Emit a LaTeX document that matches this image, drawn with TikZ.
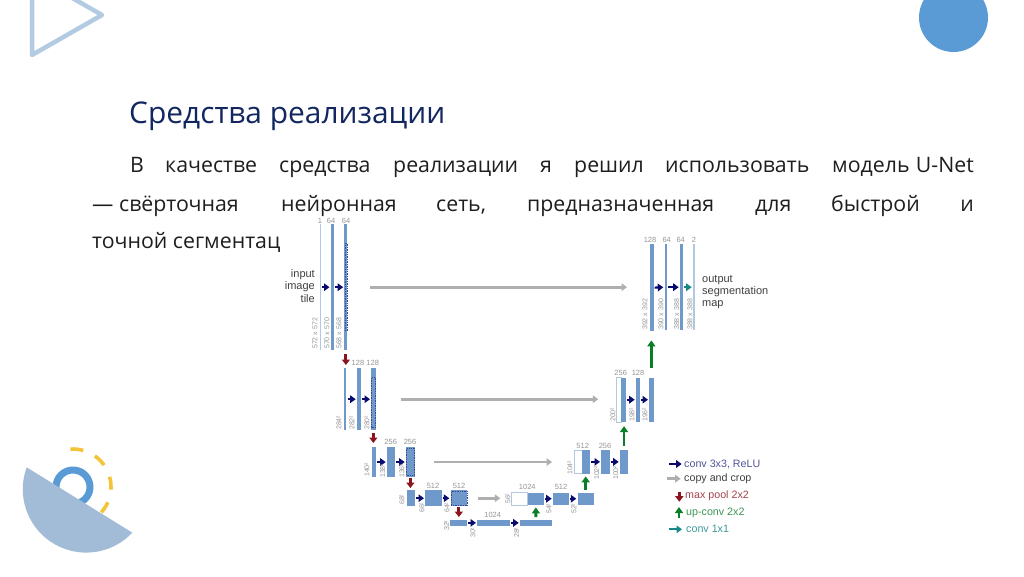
\documentclass[tikz,border=0pt]{standalone}
\usepackage{fontspec}
\setmainfont{Open Sans}
\newfontfamily\unetfont{Liberation Sans}
\usetikzlibrary{arrows.meta, calc}
\definecolor{TitleBlue}{RGB}{18, 38, 96}
\definecolor{BodyGrey}{RGB}{30, 30, 30}
\definecolor{BarBlue}{RGB}{112, 153, 203}
\definecolor{BarLight}{RGB}{178, 200, 226}
\definecolor{ShapeBlue}{RGB}{91, 155, 213}
\definecolor{ShapePale}{RGB}{162, 188, 216}
\definecolor{TriBlue}{RGB}{178, 203, 226}
\definecolor{SunYellow}{RGB}{242, 196, 58}
\definecolor{LabelGrey}{RGB}{150, 150, 150}
\definecolor{ConvNavy}{RGB}{10, 10, 110}
\definecolor{CopyGrey}{RGB}{175, 175, 175}
\definecolor{PoolRed}{RGB}{140, 20, 30}
\definecolor{UpGreen}{RGB}{10, 125, 40}
\definecolor{OneTeal}{RGB}{25, 135, 135}

\begin{document}
\begin{tikzpicture}[
    x=1pt, y=-1pt,
    bar/.style 2 args={rectangle, draw=none, fill=BarBlue, inner sep=0pt, anchor=north west, minimum width=#1pt, minimum height=#2pt},
    ghost/.style 2 args={rectangle, draw=BarLight, line width=0.6pt, fill=white, inner sep=0pt, anchor=north west, minimum width=#1pt, minimum height=#2pt},
    crop/.style 2 args={rectangle, draw=ConvNavy!55!BarBlue, densely dotted, line width=0.7pt, inner sep=0pt, anchor=north west, minimum width=#1pt, minimum height=#2pt},
    word/.style={anchor=base west, inner sep=0pt, font=\fontsize{21.3}{25}\selectfont, text=BodyGrey},
    toplab/.style={anchor=center, inner sep=0pt, font=\unetfont\fontsize{7.5}{8}\selectfont, text=LabelGrey},
    sidelab/.style={anchor=west, rotate=90, inner sep=0pt, font=\unetfont\fontsize{7}{8}\selectfont, text=LabelGrey},
    tiletext/.style={inner sep=0pt, font=\unetfont\fontsize{11}{12.4}\selectfont, text=black!75, align=left},
    legtext/.style={anchor=west, inner sep=0pt, font=\unetfont\fontsize{10.7}{12}\selectfont},
    conv/.style={-{Triangle[width=7.5pt,length=5.5pt]}, line width=2.2pt, draw=ConvNavy, shorten <=1pt, shorten >=1pt},
    copyarrow/.style={-{Triangle[width=7.5pt,length=5.5pt]}, line width=2.6pt, draw=CopyGrey},
    pool/.style={-{Triangle[width=8pt,length=5.5pt]}, line width=3pt, draw=PoolRed},
    upconv/.style={-{Triangle[width=8pt,length=6pt]}, line width=2.8pt, draw=UpGreen},
    oneconv/.style={-{Triangle[width=7.5pt,length=5.5pt]}, line width=2.2pt, draw=OneTeal, shorten <=1pt, shorten >=1pt}
]
    \useasboundingbox (0,0) rectangle (1024,576);
    \clip (0,0) rectangle (1024,576);

    % Slide decoration
    \draw [TriBlue, line width=4.5pt, line join=round] (32,-25) -- (32,55) -- (102,15) -- cycle;
    \fill [ShapeBlue] (953.5,17.5) circle [radius=34.5pt];
    \draw [SunYellow, line width=3.6pt, dash pattern=on 13pt off 13pt] (73,487) ++(94:38pt) arc [start angle=94, end angle=-42, radius=38pt];
    \draw [ShapeBlue, line width=7pt] (73,487) circle [radius=17pt];
    \fill [ShapePale] (26.7,467.3) arc [start angle=159.8, end angle=316.7, radius=63.4pt] -- cycle;

    % Text of the slide
    \node (title) [word, font=\fontsize{29.9}{34}\selectfont, text=TitleBlue] at (129,123) {Средства реализации};
    \node (w1) [word] at (130,172) {В};
    \node (w2) [word] at (165,172) {качестве};
    \node (w3) [word] at (279,172) {средства};
    \node (w4) [word] at (393,172) {реализации};
    \node (w5) [word] at (540,172) {я};
    \node (w6) [word] at (574,172) {решил};
    \node (w7) [word] at (665,172) {использовать};
    \node (w8) [word] at (832,172) {модель};
    \node (w9) [word, anchor=base east] at (974,172) {U-Net};
    \node (v1) [word] at (92,211) {—};
    \node (v2) [word] at (119,211) {свёрточная};
    \node (v3) [word] at (281,211) {нейронная};
    \node (v4) [word] at (436,211) {сеть,};
    \node (v5) [word] at (527,211) {предназначенная};
    \node (v6) [word] at (755,211) {для};
    \node (v7) [word] at (831,211) {быстрой};
    \node (v8) [word, anchor=base east] at (974,211) {и};
    \node (t1) [word] at (92,248) {точной сегментации};

    % White sheet of the network picture
    \fill [white] (280,217) rectangle (772,545);

    % Contracting side
    \node (a1) [bar={1.5}{126}, fill=BarLight] at (319.3,224) {};
    \node (a2) [bar={3}{126}] at (330.5,224) {};
    \node (a3) [bar={3}{126}] at (344.2,224) {};
    \node (a3c) [crop={2.4}{87}] at (344.5,243) {};
    \node (b1) [bar={2.4}{62}] at (343.7,368) {};
    \node (b2) [bar={3.6}{62}] at (356.7,368) {};
    \node (b3) [bar={4.3}{62}] at (371,368) {};
    \node (b3c) [crop={3.6}{50}] at (371.4,377) {};
    \node (c1) [bar={4.4}{30.3}] at (371.3,446.7) {};
    \node (c2) [bar={8.3}{30.3}] at (386.7,446.7) {};
    \node (c3) [bar={9}{30.3}] at (405.7,446.7) {};
    \node (c3c) [crop={7.6}{27}] at (406.4,448) {};
    \node (d1) [bar={8.3}{16}] at (406.7,490) {};
    \node (d2) [bar={16.3}{16}] at (425,490) {};
    \node (d3) [bar={16.7}{16}] at (450.3,490) {};
    \node (d3c) [crop={15.7}{14}] at (450.8,491) {};

    % Bottom
    \node (e1) [bar={17}{6.7}] at (450,519.3) {};
    \node (e2) [bar={32.3}{6.7}] at (477,519.3) {};
    \node (e3) [bar={32}{6.7}] at (519.7,519.3) {};

    % Expanding side
    \node (f0) [ghost={16}{12.4}] at (511.3,492.3) {};
    \node (f1) [bar={16.7}{12.4}] at (527.3,492.3) {};
    \node (f2) [bar={16.3}{12.4}] at (552.7,492.3) {};
    \node (f3) [bar={16.4}{12.4}] at (577.3,492.3) {};
    \node (g0) [ghost={8}{23.3}] at (574,450) {};
    \node (g1) [bar={8}{23.3}] at (582,450) {};
    \node (g2) [bar={8.3}{23.3}] at (601,450) {};
    \node (g3) [bar={8.3}{23.3}] at (619.7,450) {};
    \node (h0) [ghost={4.4}{44.4}] at (616.3,377.3) {};
    \node (h1) [bar={4.6}{44.4}] at (620.7,377.3) {};
    \node (h2) [bar={4.3}{44.4}] at (635.7,377.3) {};
    \node (h3) [bar={4.3}{44.4}] at (649,377.3) {};
    \node (k1) [bar={3.3}{87}] at (650,244) {};
    \node (k2) [bar={2.4}{86}] at (664.3,244) {};
    \node (k3) [bar={2.6}{86}] at (679.7,244) {};
    \node (k4) [bar={2}{86}, fill=BarLight] at (692.7,244) {};

    % Linear Arrows
    \draw [conv] (a1.east) -- (a2.west);
    \draw [conv] (a2.east) -- (a3.west);
    \draw [conv] (b1.east) -- (b2.west);
    \draw [conv] (b2.east) -- (b3.west);
    \draw [conv] (c1.east) -- (c2.west);
    \draw [conv] (c2.east) -- (c3.west);
    \draw [conv] (d1.east) -- (d2.west);
    \draw [conv] (d2.east) -- (d3.west);
    \draw [conv] (e1.east) -- (e2.west);
    \draw [conv] (e2.east) -- (e3.west);
    \draw [conv] (f1.east) -- (f2.west);
    \draw [conv] (f2.east) -- (f3.west);
    \draw [conv] (g1.east) -- (g2.west);
    \draw [conv] (g2.east) -- (g3.west);
    \draw [conv] (h1.east) -- (h2.west);
    \draw [conv] (h2.east) -- (h3.west);
    \draw [conv] (k1.east) -- (k2.west);
    \draw [conv] (k2.east) -- (k3.west);
    \draw [oneconv] (k3.east) -- (k4.west);

    % Copy arrows
    \draw [copyarrow, shorten <=22.5pt, shorten >=23pt] (a3.east) -- (a3.east -| k1.west);
    \draw [copyarrow, shorten <=25.7pt, shorten >=18pt] (b3.east) -- (b3.east -| h0.west);
    \draw [copyarrow, shorten <=19.3pt, shorten >=22pt] (c3.east) -- (c3.east -| g0.west);
    \draw [copyarrow, shorten <=10.7pt, shorten >=11pt] (d3.east) -- (d3.east -| f0.west);

    % Pool and up arrows
    \draw [pool, shorten <=4pt, shorten >=3pt] (a3.south) -- (a3.south |- b1.north);
    \draw [pool, shorten <=3pt, shorten >=3.7pt] (b3.south) -- (b3.south |- c1.north);
    \draw [pool, shorten <=1pt, shorten >=2pt] (c3.south) -- (c3.south |- d1.north);
    \draw [pool, shorten <=1pt, shorten >=2.3pt] (d3.south) -- (d3.south |- e1.north);
    \draw [upconv, shorten <=2.3pt, shorten >=2.3pt] (e3.north) -- (f1.south);
    \draw [upconv, shorten <=2.3pt, shorten >=2.7pt] (f3.north) -- (f3.north |- g1.south);
    \draw [upconv, shorten <=4pt, shorten >=4pt] (g3.north) -- (g3.north |- h1.south);
    \draw [upconv, shorten <=9.6pt, shorten >=9pt] (h3.north) -- (h3.north |- k1.south);

    % Labels on top
    \node (la1) [toplab] at (320,221) {1};
    \node (la2) [toplab] at (331,221) {64};
    \node (la3) [toplab] at (346,221) {64};
    \node (lb2) [toplab] at (358,363) {128};
    \node (lb3) [toplab] at (372.7,363) {128};
    \node (lc2) [toplab] at (390.7,441.7) {256};
    \node (lc3) [toplab] at (410,441.7) {256};
    \node (ld2) [toplab] at (433,486) {512};
    \node (ld3) [toplab] at (459,486) {512};
    \node (le2) [toplab] at (492.7,515) {1024};
    \node (lf1) [toplab] at (527.3,487) {1024};
    \node (lf2) [toplab] at (561,487) {512};
    \node (lg1) [toplab] at (582.7,446) {512};
    \node (lg2) [toplab] at (605,446) {256};
    \node (lh1) [toplab] at (620.7,372.7) {256};
    \node (lh2) [toplab] at (638,372.7) {128};
    \node (lk1) [toplab] at (650,240) {128};
    \node (lk2) [toplab] at (666.7,240) {64};
    \node (lk3) [toplab] at (680.7,240) {64};
    \node (lk4) [toplab] at (694,240) {2};

    % Labels along the bars
    \node (sa1) [sidelab] at (315,349) {572 x 572};
    \node (sa2) [sidelab] at (327,349) {570 x 570};
    \node (sa3) [sidelab] at (339,349) {568 x 568};
    \node (sb1) [sidelab] at (339,430) {284²};
    \node (sb2) [sidelab] at (352,430) {282²};
    \node (sb3) [sidelab] at (367,430) {280²};
    \node (sc1) [sidelab] at (367,477) {140²};
    \node (sc2) [sidelab] at (382.7,478) {138²};
    \node (sc3) [sidelab] at (402,478) {136²};
    \node (sd1) [sidelab] at (402,505) {68²};
    \node (sd2) [sidelab] at (422,513) {66²};
    \node (sd3) [sidelab] at (447,513) {64²};
    \node (se1) [sidelab] at (446.7,531) {32²};
    \node (se2) [sidelab] at (473,538) {30²};
    \node (se3) [sidelab] at (516.7,538) {28²};
    \node (sf0) [sidelab] at (508,504) {56²};
    \node (sf1) [sidelab] at (549,514) {54²};
    \node (sf2) [sidelab] at (574,514) {52²};
    \node (sg0) [sidelab] at (570,475) {104²};
    \node (sg1) [sidelab] at (596.7,480) {102²};
    \node (sg2) [sidelab] at (615.7,480) {100²};
    \node (sh0) [sidelab] at (613,422) {200²};
    \node (sh1) [sidelab] at (632,422) {198²};
    \node (sh2) [sidelab] at (645,422) {196²};
    \node (sk1) [sidelab] at (645,330) {392 x 392};
    \node (sk2) [sidelab] at (661,330) {390 x 390};
    \node (sk3) [sidelab] at (676.7,330) {388 x 388};
    \node (sk4) [sidelab] at (690,330) {388 x 388};

    % Input and output
    \node (tile) [tiletext, anchor=east, align=right] at (315,286) {input\\image\\tile};
    \node (outmap) [tiletext, anchor=west] at (702,292) {output\\segmentation\\map};

    % Legend
    \coordinate (m1a) at (669.3,464);
    \coordinate (m1b) at (681.7,464);
    \coordinate (m2a) at (666.7,478.7);
    \coordinate (m2b) at (680.7,478.7);
    \coordinate (m3a) at (679.3,491.7);
    \coordinate (m3b) at (679.3,501.7);
    \coordinate (m4a) at (679,518);
    \coordinate (m4b) at (679,507);
    \coordinate (m5a) at (669,529.3);
    \coordinate (m5b) at (682,529.3);
    \draw [conv, shorten <=0pt, shorten >=0pt] (m1a) -- (m1b);
    \draw [copyarrow] (m2a) -- (m2b);
    \draw [pool] (m3a) -- (m3b);
    \draw [upconv] (m4a) -- (m4b);
    \draw [oneconv, shorten <=0pt, shorten >=0pt] (m5a) -- (m5b);
    \node (n1) [legtext, text=ConvNavy!70!white] at (684,464) {conv 3x3, ReLU};
    \node (n2) [legtext, text=black!75] at (684,478.7) {copy and crop};
    \node (n3) [legtext, text=PoolRed!80!white] at (685,496) {max pool 2x2};
    \node (n4) [legtext, text=UpGreen!80!white] at (686,513) {up-conv 2x2};
    \node (n5) [legtext, text=OneTeal!85!white] at (686,529) {conv 1x1};

\end{tikzpicture}
\end{document}
